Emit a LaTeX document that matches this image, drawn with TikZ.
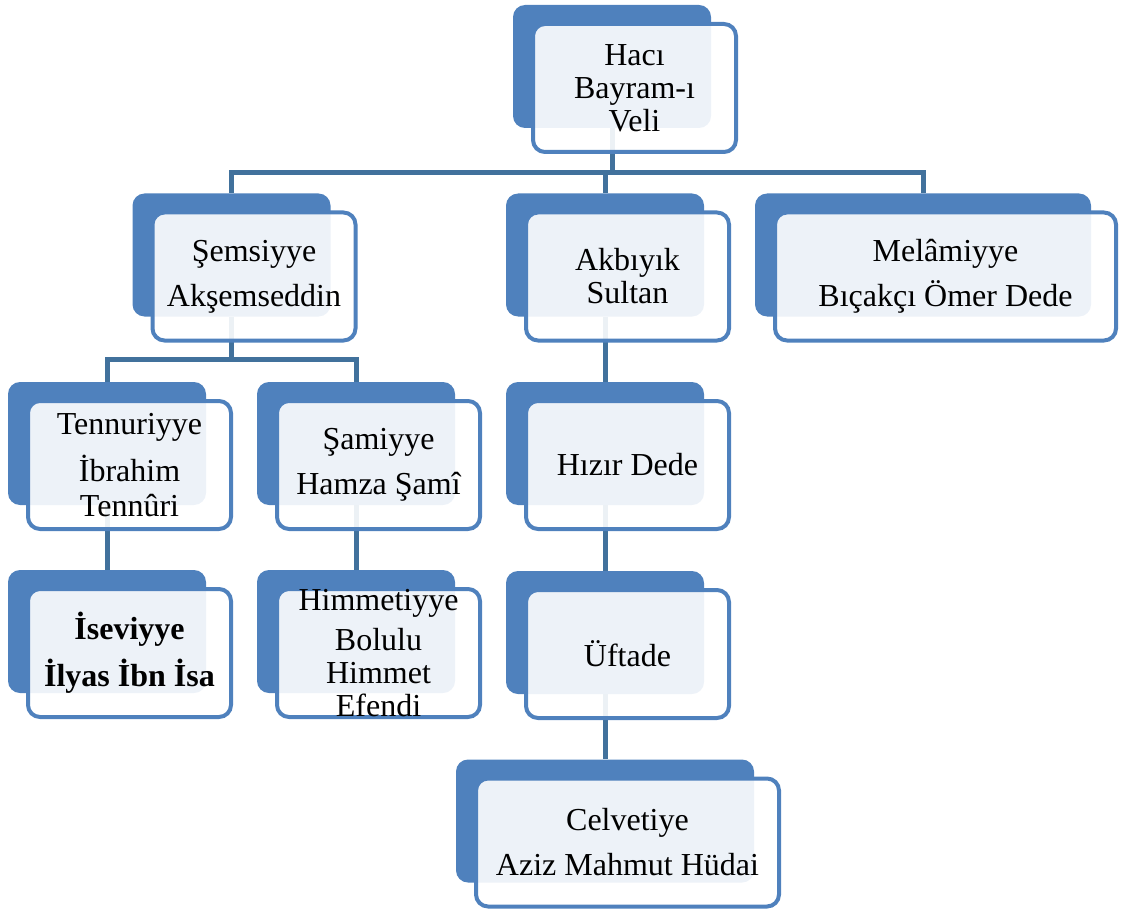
\documentclass[tikz,border=0pt]{standalone}
\usepackage{fontspec}
\setmainfont{Liberation Serif}
\definecolor{boxblue}{HTML}{4F81BD}
\definecolor{lineblue}{HTML}{41719C}
\begin{document}
\begin{tikzpicture}[x=1pt, y=-1pt,
back/.style={rectangle, rounded corners=12pt, fill=boxblue, minimum width=198pt, minimum height=123pt, inner sep=0pt},
front/.style={rectangle, rounded corners=12pt, draw=boxblue, line width=4pt, fill=white, fill opacity=0.9, minimum width=203pt, minimum height=128pt, inner sep=0pt},
txt/.style={align=center, inner sep=0pt, font=\fontsize{32}{33}\selectfont},
link/.style={draw=lineblue, line width=5pt}]
\useasboundingbox (0,0) rectangle (1126,909);
\node[back] (bk0) at (612,66.5){};
\node[back] (bk1) at (231.5,255){};
\node[back] (bk2) at (605,255){};
\node[back, minimum width=336pt] (bk3) at (923,255){};
\node[back] (bk4) at (107,443.5){};
\node[back] (bk5) at (356,443.5){};
\node[back] (bk6) at (605,443.5){};
\node[back] (bk7) at (107,631.5){};
\node[back] (bk8) at (356,631.5){};
\node[back] (bk9) at (605,632.5){};
\node[back, minimum width=298pt] (bk10) at (605,821){};
\draw[link](bk0.south) -- ++(0,44) -| (bk1.north);
\draw[link](bk0.south) -- ++(0,44) -| (bk2.north);
\draw[link](bk0.south) -- ++(0,44) -| (bk3.north);
\draw[link](bk1.south) -- ++(0,43) -| (bk4.north);
\draw[link](bk1.south) -- ++(0,43) -| (bk5.north);
\draw[link](bk2.south) -- (bk6.north);
\draw[link](bk4.south) -- (bk7.north);
\draw[link](bk5.south) -- (bk8.north);
\draw[link](bk6.south) -- (bk9.north);
\draw[link](bk9.south) -- (bk10.north);
\node[front] (fr0) at ([shift={(22.5,21.5)}]bk0.center){};
\node[front] (fr1) at ([shift={(22.5,21.5)}]bk1.center){};
\node[front] (fr2) at ([shift={(22.5,21.5)}]bk2.center){};
\node[front, minimum width=341pt] (fr3) at ([shift={(22.5,21.5)}]bk3.center){};
\node[front] (fr4) at ([shift={(22.5,21.5)}]bk4.center){};
\node[front] (fr5) at ([shift={(22.5,21.5)}]bk5.center){};
\node[front] (fr6) at ([shift={(22.5,21.5)}]bk6.center){};
\node[front] (fr7) at ([shift={(22.5,21.5)}]bk7.center){};
\node[front] (fr8) at ([shift={(22.5,21.5)}]bk8.center){};
\node[front] (fr9) at ([shift={(22.5,21.5)}]bk9.center){};
\node[front, minimum width=303pt] (fr10) at ([shift={(22.5,21.5)}]bk10.center){};
\node[txt] (tx0) at (fr0){Hacı\\Bayram-ı\\Veli};
\node[txt] (tx1) at (fr1){Şemsiyye\\[12pt]Akşemseddin};
\node[txt] (tx2) at (fr2){Akbıyık\\Sultan};
\node[txt] (tx3) at (fr3){Melâmiyye\\[12pt]Bıçakçı Ömer Dede};
\node[txt] (tx4) at (fr4){Tennuriyye\\[12pt]İbrahim\\[2pt]Tennûri};
\node[txt] (tx5) at (fr5){Şamiyye\\[12pt]Hamza Şamî};
\node[txt] (tx6) at (fr6){Hızır Dede};
\node[txt, font=\fontsize{32}{33}\selectfont\bfseries] (tx7) at (fr7){İseviyye\\[12pt]İlyas İbn İsa};
\node[txt] (tx8) at (fr8){Himmetiyye\\[7pt]Bolulu\\Himmet\\Efendi};
\node[txt] (tx9) at (fr9){Üftade};
\node[txt] (tx10) at (fr10){Celvetiye\\[12pt]Aziz Mahmut Hüdai};
\end{tikzpicture}
\end{document}
